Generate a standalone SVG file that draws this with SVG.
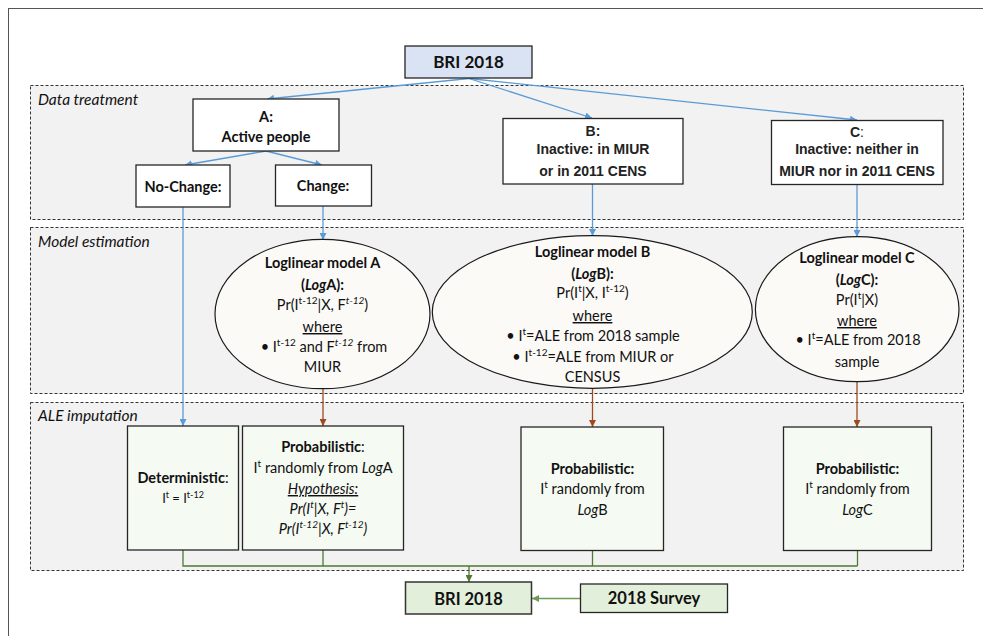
<svg xmlns="http://www.w3.org/2000/svg" width="983" height="636" viewBox="0 0 983 636">
<defs>
<style>
.panel{fill:#f2f2f2;stroke:#333;stroke-width:1;stroke-dasharray:3,2}
.box{fill:#fff;stroke:#262626;stroke-width:1.3}
.gbox{fill:#f5faf3;stroke:#262626;stroke-width:1.3}
.ell{fill:#fcfaf7;stroke:#1a1a1a;stroke-width:1.2}
.t{font-family:Lato,"Open Sans",sans-serif;font-size:14.5px;fill:#111;text-anchor:middle}
.b{font-weight:bold}
.ar{font-family:"Liberation Sans",Arial,sans-serif;font-size:14px;font-weight:bold;fill:#222;text-anchor:middle}
.lab{font-family:Lato,"Open Sans",sans-serif;font-size:15.5px;font-style:italic;fill:#111}
.blue{stroke:#5b9bd5;stroke-width:1.3;fill:none}
.brown{stroke:#9e4a1e;stroke-width:1.3;fill:none}
.green{stroke:#4f7a30;stroke-width:1.3;fill:none}
.lgreen{stroke:#6f9a55;stroke-width:1.6;fill:none}
</style>
<marker id="mb" viewBox="0 0 10 10" refX="10" refY="5" markerWidth="7" markerHeight="7" markerUnits="userSpaceOnUse" orient="auto"><path d="M0,0 L10,5 L0,10 z" fill="#5b9bd5"/></marker>
<marker id="mr" viewBox="0 0 10 10" refX="10" refY="5" markerWidth="7" markerHeight="7" markerUnits="userSpaceOnUse" orient="auto"><path d="M0,0 L10,5 L0,10 z" fill="#9e4a1e"/></marker>
<marker id="mg" viewBox="0 0 10 10" refX="10" refY="5" markerWidth="7" markerHeight="7" markerUnits="userSpaceOnUse" orient="auto"><path d="M0,0 L10,5 L0,10 z" fill="#4f7a30"/></marker>
<marker id="mlg" viewBox="0 0 10 10" refX="10" refY="5" markerWidth="7" markerHeight="7" markerUnits="userSpaceOnUse" orient="auto"><path d="M0,0 L10,5 L0,10 z" fill="#6f9a55"/></marker>
</defs>
<rect x="0" y="0" width="983" height="636" fill="#fff"/>
<rect x="8.5" y="8.5" width="990" height="640" fill="none" stroke="#555" stroke-width="1"/>

<g id="panels">
<rect class="panel" x="30.5" y="85.5" width="933" height="134"/>
<rect class="panel" x="30.5" y="227.5" width="933" height="166"/>
<rect class="panel" x="30.5" y="402.5" width="933" height="168"/>
<text class="lab" x="38" y="105">Data treatment</text>
<text class="lab" x="38" y="247">Model estimation</text>
<text class="lab" x="38" y="421">ALE imputation</text>
</g>

<g id="connectors">
<path class="blue" d="M469,78.5 L267,99" marker-end="url(#mb)"/>
<path class="blue" d="M469,78.5 L592,118" marker-end="url(#mb)"/>
<path class="blue" d="M469,78.5 L857,120" marker-end="url(#mb)"/>
<path class="blue" d="M266,151 L185,165" marker-end="url(#mb)"/>
<path class="blue" d="M266,151 L322,165" marker-end="url(#mb)"/>
<path class="blue" d="M183,207 L183,426" marker-end="url(#mb)"/>
<path class="blue" d="M323,206 L323,240" marker-end="url(#mb)"/>
<path class="blue" d="M592.5,184 L592.5,236" marker-end="url(#mb)"/>
<path class="blue" d="M857,184 L857,237" marker-end="url(#mb)"/>
<path class="brown" d="M323,389 L323,426" marker-end="url(#mr)"/>
<path class="brown" d="M592.5,388 L592.5,427" marker-end="url(#mr)"/>
<path class="brown" d="M857,382 L857,427" marker-end="url(#mr)"/>
<path class="green" d="M183,550 L183,566 L857.5,566 M323,550 L323,566 M592.5,550 L592.5,566 M857.5,550 L857.5,566"/>
<path class="green" d="M469,566 L469,582" marker-end="url(#mg)"/>
<path class="lgreen" d="M580,598.5 L532,598.5" marker-end="url(#mlg)"/>
</g>

<g id="bri-top">
<rect x="405" y="46" width="127" height="32" fill="#dae3f3" stroke="#262626" stroke-width="1.3"/>
<text class="t b" x="468.5" y="68" style="font-size:17px">BRI 2018</text>
</g>

<g id="box-a">
<rect class="box" x="193" y="99" width="146" height="52"/>
<text class="t b" x="266" y="122">A:</text>
<text class="t b" x="266" y="142">Active people</text>
</g>
<g id="box-nochange">
<rect class="box" x="136" y="165" width="94" height="42"/>
<text class="t b" x="183" y="192">No-Change:</text>
</g>
<g id="box-change">
<rect class="box" x="275.5" y="165" width="96" height="41"/>
<text class="t b" x="323" y="191">Change:</text>
</g>
<g id="box-b">
<rect class="box" x="503" y="118.5" width="180" height="65.5"/>
<text class="ar" x="593" y="136">B:</text>
<text class="ar" x="593" y="154">Inactive: in MIUR</text>
<text class="ar" x="593" y="176">or in 2011 CENS</text>
</g>
<g id="box-c">
<rect class="box" x="771.5" y="120.5" width="171.5" height="64"/>
<text class="ar" x="857" y="137">C<tspan font-weight="normal">:</tspan></text>
<text class="ar" x="857" y="154">Inactive: neither in</text>
<text class="ar" x="857" y="176">MIUR nor in 2011 CENS</text>
</g>

<g id="ellipse-a">
<ellipse class="ell" cx="322.5" cy="314" rx="107.5" ry="74.7"/>
<text class="t b" x="322.5" y="268">Loglinear model A</text>
<text class="t b" x="322.5" y="290">(<tspan font-style="italic">Log</tspan>A):</text>
<text class="t" x="322.5" y="310">Pr(I<tspan baseline-shift="super" font-size="10">t-12</tspan>|X, F<tspan baseline-shift="super" font-size="10" font-style="italic">t-12</tspan>)</text>
<text class="t" x="322.5" y="332" text-decoration="underline">where</text>
<text class="t" x="324" y="352">•  I<tspan baseline-shift="super" font-size="10">t-12</tspan> and F<tspan baseline-shift="super" font-size="10" font-style="italic">t-12</tspan> from</text>
<text class="t" x="322.5" y="372">MIUR</text>
</g>

<g id="ellipse-b">
<ellipse class="ell" cx="592.3" cy="312" rx="160" ry="76.3"/>
<text class="t b" x="592.5" y="257">Loglinear model B</text>
<text class="t b" x="592.5" y="279">(<tspan font-style="italic">Log</tspan>B):</text>
<text class="t" x="592.5" y="298">Pr(I<tspan baseline-shift="super" font-size="10">t</tspan>|X, I<tspan baseline-shift="super" font-size="10">t-12</tspan>)</text>
<text class="t" x="592.5" y="321" text-decoration="underline">where</text>
<text class="t" x="593" y="341">•  I<tspan baseline-shift="super" font-size="10">t</tspan>=ALE from 2018 sample</text>
<text class="t" x="593" y="362">•  I<tspan baseline-shift="super" font-size="10">t-12</tspan>=ALE from MIUR or</text>
<text class="t" x="592.5" y="382">CENSUS</text>
</g>

<g id="ellipse-c">
<ellipse class="ell" cx="857.2" cy="309.2" rx="101.8" ry="72.5"/>
<text class="t b" x="857" y="263">Loglinear model C</text>
<text class="t b" x="857" y="285">(<tspan font-style="italic">Log</tspan>C):</text>
<text class="t" x="857" y="305">Pr(I<tspan baseline-shift="super" font-size="10">t</tspan>|X)</text>
<text class="t" x="857" y="326" text-decoration="underline">where</text>
<text class="t" x="858" y="345">•  I<tspan baseline-shift="super" font-size="10">t</tspan>=ALE from 2018</text>
<text class="t" x="857" y="367">sample</text>
</g>

<g id="box-det">
<rect class="gbox" x="127.5" y="426" width="111" height="124"/>
<text class="t b" x="183" y="483">Deterministic<tspan font-weight="normal">:</tspan></text>
<text class="t" x="183" y="503" style="font-size:13px">I<tspan baseline-shift="super" font-size="9">t</tspan> = I<tspan baseline-shift="super" font-size="9">t-12</tspan></text>
</g>

<g id="box-proba">
<rect class="gbox" x="242.5" y="426" width="161" height="124"/>
<text class="t b" x="323" y="452">Probabilistic<tspan font-weight="normal">:</tspan></text>
<text class="t" x="323" y="473">I<tspan baseline-shift="super" font-size="10">t</tspan> randomly from <tspan font-style="italic">Log</tspan>A</text>
<text class="t" x="323" y="494" font-style="italic" text-decoration="underline">Hypothesis:</text>
<text class="t" x="323" y="514" font-style="italic">Pr(I<tspan baseline-shift="super" font-size="10">t</tspan>|X, F<tspan baseline-shift="super" font-size="10">t</tspan>)=</text>
<text class="t" x="323" y="534" font-style="italic">Pr(I<tspan baseline-shift="super" font-size="10">t-12</tspan>|X, F<tspan baseline-shift="super" font-size="10">t-12</tspan>)</text>
</g>

<g id="box-probb">
<rect class="gbox" x="521" y="427" width="142.5" height="123.5"/>
<text class="t b" x="592.5" y="474">Probabilistic:</text>
<text class="t" x="592.5" y="494">I<tspan baseline-shift="super" font-size="10">t</tspan> randomly from</text>
<text class="t" x="592.5" y="515"><tspan font-style="italic">Log</tspan>B</text>
</g>

<g id="box-probc">
<rect class="gbox" x="783.5" y="427" width="148" height="123.5"/>
<text class="t b" x="857.5" y="474">Probabilistic:</text>
<text class="t" x="857.5" y="494">I<tspan baseline-shift="super" font-size="10">t</tspan> randomly from</text>
<text class="t" x="857.5" y="515"><tspan font-style="italic">Log</tspan>C</text>
</g>

<g id="bri-bottom">
<rect x="405.5" y="582" width="126" height="32" fill="#e2efda" stroke="#333" stroke-width="1.5"/>
<text class="t b" x="468.5" y="605" style="font-size:16.5px">BRI 2018</text>
</g>
<g id="survey">
<rect x="580.5" y="584" width="147" height="28.5" fill="#e2efda" stroke="#262626" stroke-width="1.3"/>
<text class="t b" x="654" y="604" style="font-size:16.5px">2018 Survey</text>
</g>
</svg>
